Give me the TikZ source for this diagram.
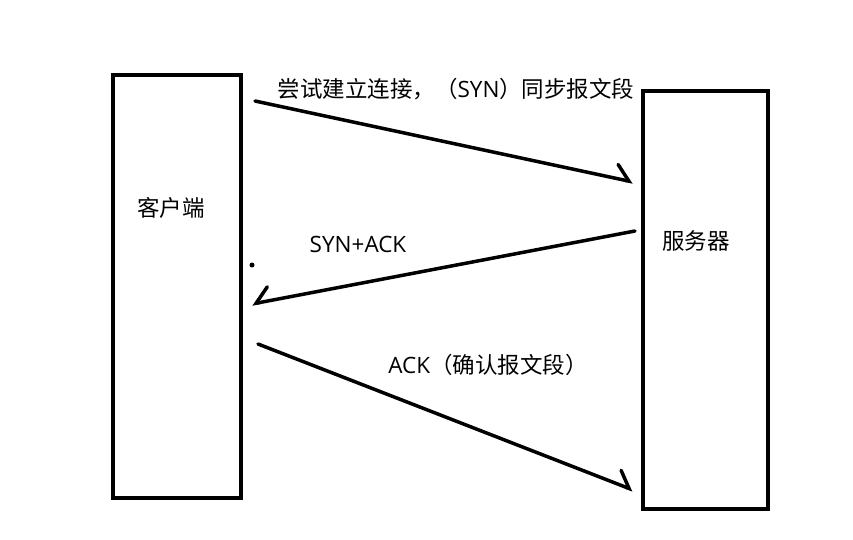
\documentclass[tikz,border=0pt]{standalone}
\usepackage{fontspec}
\setmainfont{Noto Sans CJK SC}
\newfontfamily\latinfont{Open Sans}
\usetikzlibrary{arrows.meta, positioning}
\newcommand{\lt}[1]{{\latinfont #1}}
\tikzset{
  hostbox/.style={rectangle, draw=black, line width=3.5pt, inner sep=0pt},
  msg/.style={font=\fontsize{22.5}{26}\selectfont, inner sep=0pt},
  msgarrow/.style={line width=3.5pt, line cap=round,
    -{Straight Barb[harpoon, length=14pt, width=28pt, line cap=round]}}
}
\begin{document}
\begin{tikzpicture}[x=1pt, y=-1pt]
  \useasboundingbox (0,0) rectangle (853,540);

  % Hosts
  \node[hostbox, minimum width=128pt, minimum height=423pt] (client) at (177,286.5) {};
  \node[hostbox, minimum width=125pt, minimum height=418pt] (server) at (705.5,300) {};
  \node[msg] (clientname) at (171,208) {客户端};
  \node[msg] (servername) at (696,241) {服务器};

  % Arrow ends
  \coordinate (syn_a) at (255,101);
  \coordinate (syn_b) at (633,182);
  \coordinate (synack_a) at (635,231);
  \coordinate (synack_b) at (252,304);
  \coordinate (ack_a) at (258,344);
  \coordinate (ack_b) at (633,490);

  % Labels
  \node[msg] (synlabel) at (456,89) {尝试建立连接，（\lt{SYN}）同步报文段};
  \node[msg] (synacklabel) at (358,244) {\lt{SYN+ACK}};
  \node[msg] (acklabel) at (488,365) {\lt{ACK}（确认报文段）};
  \fill (252,265) circle (2.5pt);

  % Arrows
  \draw[msgarrow] (syn_a) -- (syn_b);
  \draw[msgarrow, -{Straight Barb[harpoon, swap, length=14pt, width=28pt, line cap=round]}] (synack_a) -- (synack_b);
  \draw[msgarrow] (ack_a) -- (ack_b);
\end{tikzpicture}
\end{document}
